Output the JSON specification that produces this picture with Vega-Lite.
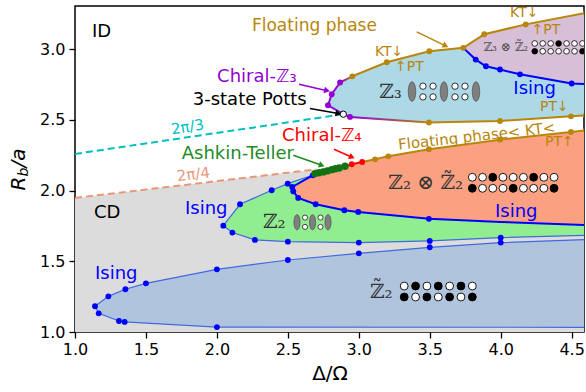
{
  "$schema": "https://vega.github.io/schema/vega-lite/v6.json",
  "width": 509,
  "height": 326,
  "autosize": {"type": "none"},
  "padding": {"left": 75, "top": 6, "right": 2, "bottom": 60},
  "background": "white",
  "config": {
    "font": "DejaVu Sans",
    "view": {"stroke": "black", "strokeWidth": 1.5},
    "axis": {
      "grid": false, "domain": false,
      "tickColor": "black", "tickSize": 6, "tickWidth": 1.3,
      "labelColor": "black", "labelFontSize": 16, "labelFont": "DejaVu Sans", "labelFlush": false,
      "titleFont": "DejaVu Sans", "titleFontSize": 20, "titleFontWeight": "normal", "titleColor": "black"
    }
  },
  "datasets": {
    "gray": [
      {"x": 1.0, "y": 1.0}, {"x": 1.0, "y": 1.948}, {"x": 2.70, "y": 2.150}, {"x": 4.6, "y": 2.15}, {"x": 4.6, "y": 1.0}
    ],
    "blueReg": [
      {"x": 4.6, "y": 1.654}, {"x": 4.0, "y": 1.632}, {"x": 3.5, "y": 1.599}, {"x": 3.0, "y": 1.556},
      {"x": 2.5, "y": 1.509}, {"x": 2.0, "y": 1.443}, {"x": 1.5, "y": 1.344}, {"x": 1.355, "y": 1.302},
      {"x": 1.235, "y": 1.252}, {"x": 1.141, "y": 1.182}, {"x": 1.167, "y": 1.132}, {"x": 1.31, "y": 1.078},
      {"x": 1.35, "y": 1.071}, {"x": 2.0, "y": 1.035}, {"x": 4.6, "y": 1.033}
    ],
    "greenReg": [
      {"x": 2.675, "y": 2.108}, {"x": 2.499, "y": 2.049}, {"x": 2.386, "y": 2.002}, {"x": 2.163, "y": 1.903},
      {"x": 2.045, "y": 1.752}, {"x": 2.109, "y": 1.703}, {"x": 2.268, "y": 1.651}, {"x": 2.5, "y": 1.639},
      {"x": 3.0, "y": 1.632}, {"x": 3.5, "y": 1.644}, {"x": 4.0, "y": 1.667}, {"x": 4.6, "y": 1.683}, {"x": 4.6, "y": 1.9}
    ],
    "orangeReg": [
      {"x": 4.6, "y": 2.427}, {"x": 4.495, "y": 2.414}, {"x": 3.995, "y": 2.36}, {"x": 3.494, "y": 2.292},
      {"x": 3.208, "y": 2.242}, {"x": 3.114, "y": 2.221}, {"x": 3.024, "y": 2.202}, {"x": 2.95, "y": 2.186},
      {"x": 2.903, "y": 2.172}, {"x": 2.862, "y": 2.16}, {"x": 2.809, "y": 2.148}, {"x": 2.75, "y": 2.132},
      {"x": 2.691, "y": 2.12}, {"x": 2.675, "y": 2.108}, {"x": 2.531, "y": 2.026}, {"x": 2.538, "y": 1.995},
      {"x": 2.573, "y": 1.948}, {"x": 2.696, "y": 1.903}, {"x": 2.898, "y": 1.861}, {"x": 2.996, "y": 1.849},
      {"x": 3.494, "y": 1.8}, {"x": 4.0, "y": 1.778}, {"x": 4.6, "y": 1.756}
    ],
    "cyanReg": [
      {"x": 4.6, "y": 2.752}, {"x": 4.5, "y": 2.757}, {"x": 4.136, "y": 2.822}, {"x": 3.995, "y": 2.856},
      {"x": 3.896, "y": 2.879}, {"x": 3.824, "y": 2.926}, {"x": 3.736, "y": 3.009}, {"x": 3.497, "y": 2.985},
      {"x": 3.197, "y": 2.907}, {"x": 2.954, "y": 2.808}, {"x": 2.868, "y": 2.764}, {"x": 2.809, "y": 2.681},
      {"x": 2.783, "y": 2.603}, {"x": 2.891, "y": 2.54}, {"x": 2.938, "y": 2.521}, {"x": 3.494, "y": 2.481},
      {"x": 3.995, "y": 2.492}, {"x": 4.495, "y": 2.525}, {"x": 4.6, "y": 2.532}
    ],
    "purpleReg": [
      {"x": 3.736, "y": 3.009}, {"x": 3.884, "y": 3.105}, {"x": 4.176, "y": 3.175}, {"x": 4.6, "y": 3.257},
      {"x": 4.6, "y": 2.752}, {"x": 4.5, "y": 2.757}, {"x": 4.136, "y": 2.822}, {"x": 3.995, "y": 2.856},
      {"x": 3.896, "y": 2.879}, {"x": 3.824, "y": 2.926}
    ],
    "edges": [
      {"s": "isingZ2", "c": "ising", "x": 2.675, "y": 2.108}, {"s": "isingZ2", "c": "ising", "x": 2.531, "y": 2.026},
      {"s": "isingZ2", "c": "ising", "x": 2.538, "y": 1.995}, {"s": "isingZ2", "c": "ising", "x": 2.573, "y": 1.948},
      {"s": "isingZ2", "c": "ising", "x": 2.696, "y": 1.903}, {"s": "isingZ2", "c": "ising", "x": 2.898, "y": 1.861},
      {"s": "isingZ2", "c": "ising", "x": 2.996, "y": 1.849}, {"s": "isingZ2", "c": "ising", "x": 3.494, "y": 1.8},
      {"s": "isingZ2", "c": "ising", "x": 4.0, "y": 1.778}, {"s": "isingZ2", "c": "ising", "x": 4.6, "y": 1.756},
      {"s": "isingZ3", "c": "ising", "x": 3.736, "y": 3.009}, {"s": "isingZ3", "c": "ising", "x": 3.824, "y": 2.926},
      {"s": "isingZ3", "c": "ising", "x": 3.896, "y": 2.879}, {"s": "isingZ3", "c": "ising", "x": 3.995, "y": 2.856},
      {"s": "isingZ3", "c": "ising", "x": 4.136, "y": 2.822}, {"s": "isingZ3", "c": "ising", "x": 4.5, "y": 2.757},
      {"s": "isingZ3", "c": "ising", "x": 4.6, "y": 2.752},
      {"s": "floatTop", "c": "float", "x": 2.954, "y": 2.808}, {"s": "floatTop", "c": "float", "x": 3.197, "y": 2.907},
      {"s": "floatTop", "c": "float", "x": 3.497, "y": 2.985}, {"s": "floatTop", "c": "float", "x": 3.736, "y": 3.009},
      {"s": "floatTop", "c": "float", "x": 3.884, "y": 3.105}, {"s": "floatTop", "c": "float", "x": 4.176, "y": 3.175},
      {"s": "floatTop", "c": "float", "x": 4.6, "y": 3.257},
      {"s": "floatMid", "c": "float", "x": 3.494, "y": 2.481}, {"s": "floatMid", "c": "float", "x": 3.995, "y": 2.492},
      {"s": "floatMid", "c": "float", "x": 4.495, "y": 2.525}, {"s": "floatMid", "c": "float", "x": 4.6, "y": 2.532},
      {"s": "floatLow", "c": "float", "x": 3.024, "y": 2.202}, {"s": "floatLow", "c": "float", "x": 3.114, "y": 2.221},
      {"s": "floatLow", "c": "float", "x": 3.208, "y": 2.242}, {"s": "floatLow", "c": "float", "x": 3.494, "y": 2.292},
      {"s": "floatLow", "c": "float", "x": 3.995, "y": 2.36}, {"s": "floatLow", "c": "float", "x": 4.495, "y": 2.414},
      {"s": "floatLow", "c": "float", "x": 4.6, "y": 2.427},
      {"s": "chiral4", "c": "z4", "x": 2.903, "y": 2.172}, {"s": "chiral4", "c": "z4", "x": 2.95, "y": 2.186},
      {"s": "chiral4", "c": "z4", "x": 3.024, "y": 2.202},
      {"s": "ashkin", "c": "at", "x": 2.675, "y": 2.108}, {"s": "ashkin", "c": "at", "x": 2.691, "y": 2.12},
      {"s": "ashkin", "c": "at", "x": 2.75, "y": 2.132}, {"s": "ashkin", "c": "at", "x": 2.809, "y": 2.148},
      {"s": "ashkin", "c": "at", "x": 2.862, "y": 2.16}, {"s": "ashkin", "c": "at", "x": 2.903, "y": 2.172},
      {"s": "chiral3", "c": "z3c", "x": 2.868, "y": 2.764}, {"s": "chiral3", "c": "z3c", "x": 2.809, "y": 2.681},
      {"s": "chiral3", "c": "z3c", "x": 2.783, "y": 2.603}, {"s": "chiral3", "c": "z3c", "x": 2.891, "y": 2.54},
      {"s": "chiral3", "c": "z3c", "x": 2.938, "y": 2.521}
    ],
    "dashes": [
      {"s": "pi3", "c": "pi3", "x": 1.0, "y": 2.259}, {"s": "pi3", "c": "pi3", "x": 2.891, "y": 2.54},
      {"s": "pi4", "c": "pi4", "x": 1.0, "y": 1.948}, {"s": "pi4", "c": "pi4", "x": 2.70, "y": 2.15}
    ],
    "arrows": [
      {"id": "z3c", "c": "z3c", "x0": 2.579, "y0": 2.752, "x": 2.776, "y": 2.706},
      {"id": "potts", "c": "k", "x0": 2.656, "y0": 2.580, "x": 2.856, "y": 2.545},
      {"id": "z4", "c": "z4", "x0": 2.825, "y0": 2.292, "x": 2.952, "y": 2.236},
      {"id": "at", "c": "at", "x0": 2.538, "y0": 2.250, "x": 2.739, "y": 2.179},
      {"id": "float", "c": "float", "x0": 3.408, "y0": 3.122, "x": 3.612, "y": 3.023}
    ],
    "dots": [
      {"c": "ising", "x": 1.141, "y": 1.182}, {"c": "ising", "x": 1.167, "y": 1.132}, {"c": "ising", "x": 1.235, "y": 1.252},
      {"c": "ising", "x": 1.31, "y": 1.078}, {"c": "ising", "x": 1.35, "y": 1.071}, {"c": "ising", "x": 1.355, "y": 1.302},
      {"c": "ising", "x": 1.5, "y": 1.344}, {"c": "ising", "x": 2.0, "y": 1.443}, {"c": "ising", "x": 2.0, "y": 1.035},
      {"c": "ising", "x": 2.5, "y": 1.509}, {"c": "ising", "x": 3.0, "y": 1.556}, {"c": "ising", "x": 3.5, "y": 1.599},
      {"c": "ising", "x": 4.0, "y": 1.632},
      {"c": "ising", "x": 2.045, "y": 1.752}, {"c": "ising", "x": 2.109, "y": 1.703}, {"c": "ising", "x": 2.268, "y": 1.651},
      {"c": "ising", "x": 2.5, "y": 1.639}, {"c": "ising", "x": 3.0, "y": 1.632}, {"c": "ising", "x": 3.5, "y": 1.644},
      {"c": "ising", "x": 4.0, "y": 1.667}, {"c": "ising", "x": 2.163, "y": 1.903}, {"c": "ising", "x": 2.386, "y": 2.002},
      {"c": "ising", "x": 2.499, "y": 2.049},
      {"c": "ising", "x": 2.675, "y": 2.108}, {"c": "ising", "x": 2.531, "y": 2.026}, {"c": "ising", "x": 2.538, "y": 1.995},
      {"c": "ising", "x": 2.573, "y": 1.948}, {"c": "ising", "x": 2.696, "y": 1.903}, {"c": "ising", "x": 2.898, "y": 1.861},
      {"c": "ising", "x": 2.996, "y": 1.849}, {"c": "ising", "x": 3.494, "y": 1.8},
      {"c": "ising", "x": 3.824, "y": 2.926}, {"c": "ising", "x": 3.896, "y": 2.879}, {"c": "ising", "x": 3.995, "y": 2.856},
      {"c": "ising", "x": 4.136, "y": 2.822}, {"c": "ising", "x": 4.5, "y": 2.757},
      {"c": "float", "x": 2.954, "y": 2.808}, {"c": "float", "x": 3.197, "y": 2.907}, {"c": "float", "x": 3.497, "y": 2.985},
      {"c": "float", "x": 3.736, "y": 3.009}, {"c": "float", "x": 3.884, "y": 3.105}, {"c": "float", "x": 4.176, "y": 3.175},
      {"c": "float", "x": 4.6, "y": 3.257}, {"c": "float", "x": 3.494, "y": 2.481}, {"c": "float", "x": 3.995, "y": 2.492},
      {"c": "float", "x": 4.495, "y": 2.525}, {"c": "float", "x": 4.6, "y": 2.532}, {"c": "float", "x": 3.114, "y": 2.221},
      {"c": "float", "x": 3.208, "y": 2.242}, {"c": "float", "x": 3.494, "y": 2.292}, {"c": "float", "x": 3.995, "y": 2.36},
      {"c": "float", "x": 4.495, "y": 2.414}, {"c": "float", "x": 4.6, "y": 2.427},
      {"c": "z4", "x": 2.95, "y": 2.186}, {"c": "z4", "x": 3.024, "y": 2.202},
      {"c": "at", "x": 2.691, "y": 2.12}, {"c": "at", "x": 2.72, "y": 2.126}, {"c": "at", "x": 2.75, "y": 2.132},
      {"c": "at", "x": 2.778, "y": 2.139}, {"c": "at", "x": 2.809, "y": 2.148}, {"c": "at", "x": 2.835, "y": 2.154},
      {"c": "at", "x": 2.862, "y": 2.16}, {"c": "at", "x": 2.903, "y": 2.172},
      {"c": "z3c", "x": 2.868, "y": 2.764}, {"c": "z3c", "x": 2.809, "y": 2.681}, {"c": "z3c", "x": 2.783, "y": 2.603},
      {"c": "z3c", "x": 2.938, "y": 2.521}
    ],
    "beads": [
      {"g": "zt2", "c": "w", "x": 3.32, "y": 1.325}, {"g": "zt2", "c": "b", "x": 3.40, "y": 1.325}, {"g": "zt2", "c": "w", "x": 3.48, "y": 1.325},
      {"g": "zt2", "c": "b", "x": 3.56, "y": 1.325}, {"g": "zt2", "c": "w", "x": 3.64, "y": 1.325}, {"g": "zt2", "c": "b", "x": 3.72, "y": 1.325},
      {"g": "zt2", "c": "w", "x": 3.80, "y": 1.325},
      {"g": "zt2", "c": "b", "x": 3.32, "y": 1.2475}, {"g": "zt2", "c": "w", "x": 3.40, "y": 1.2475}, {"g": "zt2", "c": "b", "x": 3.48, "y": 1.2475},
      {"g": "zt2", "c": "w", "x": 3.56, "y": 1.2475}, {"g": "zt2", "c": "b", "x": 3.64, "y": 1.2475}, {"g": "zt2", "c": "w", "x": 3.72, "y": 1.2475},
      {"g": "zt2", "c": "b", "x": 3.80, "y": 1.2475},
      {"g": "z2z2", "c": "w", "x": 3.800, "y": 2.094}, {"g": "z2z2", "c": "w", "x": 3.872, "y": 2.094}, {"g": "z2z2", "c": "b", "x": 3.944, "y": 2.094},
      {"g": "z2z2", "c": "w", "x": 4.016, "y": 2.094}, {"g": "z2z2", "c": "w", "x": 4.088, "y": 2.094}, {"g": "z2z2", "c": "w", "x": 4.160, "y": 2.094},
      {"g": "z2z2", "c": "b", "x": 4.232, "y": 2.094}, {"g": "z2z2", "c": "w", "x": 4.304, "y": 2.094}, {"g": "z2z2", "c": "w", "x": 4.376, "y": 2.094},
      {"g": "z2z2", "c": "b", "x": 3.800, "y": 2.016}, {"g": "z2z2", "c": "w", "x": 3.872, "y": 2.016}, {"g": "z2z2", "c": "w", "x": 3.944, "y": 2.016},
      {"g": "z2z2", "c": "w", "x": 4.016, "y": 2.016}, {"g": "z2z2", "c": "b", "x": 4.088, "y": 2.016}, {"g": "z2z2", "c": "w", "x": 4.160, "y": 2.016},
      {"g": "z2z2", "c": "w", "x": 4.232, "y": 2.016}, {"g": "z2z2", "c": "w", "x": 4.304, "y": 2.016}, {"g": "z2z2", "c": "b", "x": 4.376, "y": 2.016},
      {"g": "z3z2", "c": "w", "x": 4.240, "y": 3.040}, {"g": "z3z2", "c": "w", "x": 4.296, "y": 3.040}, {"g": "z3z2", "c": "w", "x": 4.352, "y": 3.040},
      {"g": "z3z2", "c": "b", "x": 4.408, "y": 3.040}, {"g": "z3z2", "c": "w", "x": 4.464, "y": 3.040}, {"g": "z3z2", "c": "w", "x": 4.520, "y": 3.040},
      {"g": "z3z2", "c": "w", "x": 4.576, "y": 3.040}, {"g": "z3z2", "c": "w", "x": 4.632, "y": 3.040},
      {"g": "z3z2", "c": "b", "x": 4.240, "y": 2.985}, {"g": "z3z2", "c": "w", "x": 4.296, "y": 2.985}, {"g": "z3z2", "c": "w", "x": 4.352, "y": 2.985},
      {"g": "z3z2", "c": "w", "x": 4.408, "y": 2.985}, {"g": "z3z2", "c": "w", "x": 4.464, "y": 2.985}, {"g": "z3z2", "c": "w", "x": 4.520, "y": 2.985},
      {"g": "z3z2", "c": "b", "x": 4.576, "y": 2.985}, {"g": "z3z2", "c": "w", "x": 4.632, "y": 2.985},
      {"g": "z3", "c": "w", "x": 3.452, "y": 2.738}, {"g": "z3", "c": "w", "x": 3.523, "y": 2.738}, {"g": "z3", "c": "w", "x": 3.678, "y": 2.738},
      {"g": "z3", "c": "w", "x": 3.748, "y": 2.738}, {"g": "z3", "c": "w", "x": 3.452, "y": 2.662}, {"g": "z3", "c": "w", "x": 3.523, "y": 2.662},
      {"g": "z3", "c": "w", "x": 3.678, "y": 2.662}, {"g": "z3", "c": "w", "x": 3.748, "y": 2.662},
      {"g": "z2", "c": "w", "x": 2.621, "y": 1.809}, {"g": "z2", "c": "w", "x": 2.730, "y": 1.809},
      {"g": "z2", "c": "w", "x": 2.621, "y": 1.743}, {"g": "z2", "c": "w", "x": 2.730, "y": 1.743}
    ],
    "ovals": [
      {"g": "z3", "x": 3.375, "y": 2.700}, {"g": "z3", "x": 3.600, "y": 2.700}, {"g": "z3", "x": 3.826, "y": 2.700},
      {"g": "z2", "x": 2.5645, "y": 1.776}, {"g": "z2", "x": 2.674, "y": 1.776}, {"g": "z2", "x": 2.783, "y": 1.776}
    ],
    "labels": [
      {"g": "L18", "c": "k", "t": "ID", "x": 1.12, "y": 3.12},
      {"g": "L18", "c": "k", "t": "CD", "x": 1.134, "y": 1.838},
      {"g": "L18", "c": "z4", "t": "Chiral-ℤ₄", "x": 2.459, "y": 2.384},
      {"g": "L18", "c": "at", "t": "Ashkin-Teller", "x": 1.752, "y": 2.262},
      {"g": "L18", "c": "ising", "t": "Ising", "x": 4.089, "y": 2.721},
      {"g": "L18", "c": "ising", "t": "Ising", "x": 1.775, "y": 1.873},
      {"g": "L18", "c": "ising", "t": "Ising", "x": 3.96, "y": 1.849},
      {"g": "L18", "c": "ising", "t": "Ising", "x": 1.141, "y": 1.413},
      {"g": "L17", "c": "float", "t": "Floating phase", "x": 2.247, "y": 3.162},
      {"g": "R18", "c": "z3c", "t": "Chiral-ℤ₃", "x": 2.562, "y": 2.803},
      {"g": "R18", "c": "k", "t": "3-state Potts", "x": 2.633, "y": 2.639},
      {"g": "L14", "c": "float", "t": "KT↓", "x": 3.114, "y": 2.98},
      {"g": "L14", "c": "float", "t": "↑PT", "x": 3.255, "y": 2.874},
      {"g": "L14", "c": "float", "t": "KT↓", "x": 4.066, "y": 3.252},
      {"g": "L14", "c": "float", "t": "↑PT", "x": 4.218, "y": 3.134},
      {"g": "L14", "c": "float", "t": "PT↓", "x": 4.277, "y": 2.591},
      {"g": "L14", "c": "float", "t": "PT↑", "x": 4.312, "y": 2.344},
      {"g": "math", "c": "math", "t": "ℤ₃", "x": 3.144, "y": 2.697},
      {"g": "math", "c": "math", "t": "ℤ₂ ⊗ ℤ̃₂", "x": 3.208, "y": 2.052},
      {"g": "math", "c": "math", "t": "ℤ₂", "x": 2.325, "y": 1.776},
      {"g": "math", "c": "math", "t": "ℤ̃₂", "x": 3.079, "y": 1.286},
      {"g": "maths", "c": "maths", "t": "ℤ₃ ⊗ ℤ̃₂", "x": 3.877, "y": 3.012},
      {"g": "rot3", "c": "pi3", "t": "2π/3", "x": 1.793, "y": 2.45},
      {"g": "rot4", "c": "pi4", "t": "2π/4", "x": 1.834, "y": 2.115},
      {"g": "rotf", "c": "float", "t": "Floating phase< KT<", "x": 3.831, "y": 2.385}
    ],
    "ytitle": [
      {"part": "R", "x": 1.0, "y": 2.0},
      {"part": "b", "x": 1.0, "y": 2.0},
      {"part": "/a", "x": 1.0, "y": 2.0}
    ]
  },
  "encoding": {
    "x": {
      "field": "x", "type": "quantitative",
      "scale": {"domain": [1.0, 4.587], "nice": false, "zero": false},
      "axis": {"values": [1, 1.5, 2, 2.5, 3, 3.5, 4, 4.5], "format": ".1f", "title": "Δ/Ω", "labelPadding": 3, "titlePadding": 6}
    },
    "y": {
      "field": "y", "type": "quantitative",
      "scale": {"domain": [1.0, 3.305], "nice": false, "zero": false},
      "axis": {"values": [1, 1.5, 2, 2.5, 3], "format": ".1f", "title": null, "labelPadding": 4}
    }
  },
  "layer": [
    {"data": {"name": "gray"}, "mark": {"type": "line", "fill": "#dcdcdc", "strokeOpacity": 0, "clip": true}, "encoding": {"order": {"value": null}}},
    {"data": {"name": "blueReg"}, "mark": {"type": "line", "fill": "#b0c4de", "strokeOpacity": 0, "clip": true}, "encoding": {"order": {"value": null}}},
    {"data": {"name": "greenReg"}, "mark": {"type": "line", "fill": "#90ee90", "strokeOpacity": 0, "clip": true}, "encoding": {"order": {"value": null}}},
    {"data": {"name": "orangeReg"}, "mark": {"type": "line", "fill": "#fca082", "strokeOpacity": 0, "clip": true}, "encoding": {"order": {"value": null}}},
    {"data": {"name": "cyanReg"}, "mark": {"type": "line", "fill": "#add8e6", "strokeOpacity": 0, "clip": true}, "encoding": {"order": {"value": null}}},
    {"data": {"name": "purpleReg"}, "mark": {"type": "line", "fill": "#d8bfd8", "strokeOpacity": 0, "clip": true}, "encoding": {"order": {"value": null}}},

    {"data": {"name": "dashes"}, "mark": {"type": "line", "strokeWidth": 2, "strokeDash": [7, 4], "clip": true},
     "encoding": {"order": {"value": null}, "detail": {"field": "s"},
       "color": {"field": "c", "type": "nominal", "legend": null,
         "scale": {"domain": ["ising", "isingl", "float", "z4", "at", "z3c", "k", "pi3", "pi4", "math", "maths", "w", "b"],
                   "range": ["#0000ff", "#4169e1", "#b8860b", "#ff0000", "#1e8c1e", "#9400d3", "#000000", "#00bfbf", "#e9967a", "#262626", "#4d4d4d", "#ffffff", "#000000"]}}}},

    {"data": {"name": "blueReg"}, "mark": {"type": "line", "color": "#4169e1", "strokeWidth": 1.2, "clip": true}, "encoding": {"order": {"value": null}}},
    {"data": {"name": "greenReg"}, "mark": {"type": "line", "color": "#4169e1", "strokeWidth": 1.2, "clip": true}, "encoding": {"order": {"value": null}}},

    {"data": {"name": "edges"}, "mark": {"type": "line", "strokeWidth": 2, "clip": true},
     "encoding": {"order": {"value": null}, "detail": {"field": "s"},
       "color": {"field": "c", "type": "nominal", "legend": null,
         "scale": {"domain": ["ising", "isingl", "float", "z4", "at", "z3c", "k", "pi3", "pi4", "math", "maths", "w", "b"],
                   "range": ["#0000ff", "#4169e1", "#b8860b", "#ff0000", "#1e8c1e", "#9400d3", "#000000", "#00bfbf", "#e9967a", "#262626", "#4d4d4d", "#ffffff", "#000000"]}}}},

    {"data": {"values": [{"x": 2.868, "y": 2.764}, {"x": 2.954, "y": 2.808}]},
     "mark": {"type": "line", "strokeWidth": 2, "clip": true,
       "stroke": {"gradient": "linear", "stops": [{"offset": 0, "color": "#9400d3"}, {"offset": 1, "color": "#b8860b"}]}},
     "encoding": {"order": {"value": null}}},
    {"data": {"values": [{"x": 2.938, "y": 2.521}, {"x": 3.494, "y": 2.481}]},
     "mark": {"type": "line", "strokeWidth": 2, "clip": true,
       "stroke": {"gradient": "linear", "stops": [{"offset": 0, "color": "#9400d3"}, {"offset": 1, "color": "#b8860b"}]}},
     "encoding": {"order": {"value": null}}},

    {"data": {"name": "arrows"}, "mark": {"type": "rule", "strokeWidth": 1.5},
     "encoding": {"x2": {"field": "x0"}, "y2": {"field": "y0"},
       "color": {"field": "c", "type": "nominal", "legend": null,
         "scale": {"domain": ["ising", "isingl", "float", "z4", "at", "z3c", "k", "pi3", "pi4", "math", "maths", "w", "b"],
                   "range": ["#0000ff", "#4169e1", "#b8860b", "#ff0000", "#1e8c1e", "#9400d3", "#000000", "#00bfbf", "#e9967a", "#262626", "#4d4d4d", "#ffffff", "#000000"]}}}},
    {"data": {"name": "arrows"}, "transform": [{"filter": "datum.id === 'z3c'"}],
     "mark": {"type": "point", "shape": "triangle-up", "filled": true, "opacity": 1, "size": 45, "angle": 103, "color": "#9400d3"}},
    {"data": {"name": "arrows"}, "transform": [{"filter": "datum.id === 'potts'"}],
     "mark": {"type": "point", "shape": "triangle-up", "filled": true, "opacity": 1, "size": 45, "angle": 100, "color": "#000000"}},
    {"data": {"name": "arrows"}, "transform": [{"filter": "datum.id === 'z4'"}],
     "mark": {"type": "point", "shape": "triangle-up", "filled": true, "opacity": 1, "size": 45, "angle": 114, "color": "#ff0000"}},
    {"data": {"name": "arrows"}, "transform": [{"filter": "datum.id === 'at'"}],
     "mark": {"type": "point", "shape": "triangle-up", "filled": true, "opacity": 1, "size": 45, "angle": 109, "color": "#1e8c1e"}},
    {"data": {"name": "arrows"}, "transform": [{"filter": "datum.id === 'float'"}],
     "mark": {"type": "point", "shape": "triangle-up", "filled": true, "opacity": 1, "size": 45, "angle": 116, "color": "#b8860b"}},

    {"data": {"name": "dots"}, "transform": [{"filter": "datum.c !== 'at'"}],
     "mark": {"type": "point", "filled": true, "opacity": 1, "size": 34, "clip": true},
     "encoding": {"color": {"field": "c", "type": "nominal", "legend": null,
         "scale": {"domain": ["ising", "isingl", "float", "z4", "at", "z3c", "k", "pi3", "pi4", "math", "maths", "w", "b"],
                   "range": ["#0000ff", "#4169e1", "#b8860b", "#ff0000", "#1e8c1e", "#9400d3", "#000000", "#00bfbf", "#e9967a", "#262626", "#4d4d4d", "#ffffff", "#000000"]}}}},
    {"data": {"name": "dots"}, "transform": [{"filter": "datum.c === 'at'"}],
     "mark": {"type": "point", "filled": true, "opacity": 1, "size": 55, "color": "#137313", "clip": true}},
    {"data": {"values": [{"x": 2.891, "y": 2.54}]},
     "mark": {"type": "point", "filled": true, "fill": "white", "stroke": "black", "strokeWidth": 1, "opacity": 1, "size": 40}},

    {"data": {"name": "ovals"}, "transform": [{"filter": "datum.g === 'z3'"}],
     "mark": {"type": "point", "shape": "M0,-1A0.38,1 0 1,1 0,1A0.38,1 0 1,1 0,-1Z", "filled": true, "fill": "#7f7f7f", "stroke": "#555555", "strokeWidth": 0.8, "opacity": 1, "size": 380}},
    {"data": {"name": "ovals"}, "transform": [{"filter": "datum.g === 'z2'"}],
     "mark": {"type": "point", "shape": "M0,-1A0.4,1 0 1,1 0,1A0.4,1 0 1,1 0,-1Z", "filled": true, "fill": "#7f7f7f", "stroke": "#555555", "strokeWidth": 0.8, "opacity": 1, "size": 230}},

    {"data": {"name": "beads"}, "transform": [{"filter": "datum.g === 'zt2' || datum.g === 'z2z2'"}],
     "mark": {"type": "point", "shape": "circle", "filled": true, "stroke": "black", "strokeWidth": 0.9, "opacity": 1, "size": 62, "clip": true},
     "encoding": {"fill": {"field": "c", "type": "nominal", "legend": null, "scale": {"domain": ["w", "b"], "range": ["#ffffff", "#000000"]}}}},
    {"data": {"name": "beads"}, "transform": [{"filter": "datum.g === 'z3z2'"}],
     "mark": {"type": "point", "shape": "circle", "filled": true, "stroke": "black", "strokeWidth": 0.8, "opacity": 1, "size": 32, "clip": true},
     "encoding": {"fill": {"field": "c", "type": "nominal", "legend": null, "scale": {"domain": ["w", "b"], "range": ["#ffffff", "#000000"]}}}},
    {"data": {"name": "beads"}, "transform": [{"filter": "datum.g === 'z3'"}],
     "mark": {"type": "point", "shape": "circle", "filled": true, "stroke": "black", "strokeWidth": 0.8, "opacity": 1, "size": 40, "clip": true},
     "encoding": {"fill": {"field": "c", "type": "nominal", "legend": null, "scale": {"domain": ["w", "b"], "range": ["#ffffff", "#000000"]}}}},
    {"data": {"name": "beads"}, "transform": [{"filter": "datum.g === 'z2'"}],
     "mark": {"type": "point", "shape": "circle", "filled": true, "stroke": "black", "strokeWidth": 0.7, "opacity": 1, "size": 26, "clip": true},
     "encoding": {"fill": {"field": "c", "type": "nominal", "legend": null, "scale": {"domain": ["w", "b"], "range": ["#ffffff", "#000000"]}}}},

    {"data": {"name": "labels"}, "transform": [{"filter": "datum.g === 'L18'"}],
     "mark": {"type": "text", "align": "left", "baseline": "middle", "fontSize": 18, "font": "DejaVu Sans"},
     "encoding": {"text": {"field": "t"},
       "color": {"field": "c", "type": "nominal", "legend": null,
         "scale": {"domain": ["ising", "isingl", "float", "z4", "at", "z3c", "k", "pi3", "pi4", "math", "maths", "w", "b"],
                   "range": ["#0000ff", "#4169e1", "#b8860b", "#ff0000", "#1e8c1e", "#9400d3", "#000000", "#00bfbf", "#e9967a", "#262626", "#4d4d4d", "#ffffff", "#000000"]}}}},
    {"data": {"name": "labels"}, "transform": [{"filter": "datum.g === 'R18'"}],
     "mark": {"type": "text", "align": "right", "baseline": "middle", "fontSize": 18, "font": "DejaVu Sans"},
     "encoding": {"text": {"field": "t"},
       "color": {"field": "c", "type": "nominal", "legend": null,
         "scale": {"domain": ["ising", "isingl", "float", "z4", "at", "z3c", "k", "pi3", "pi4", "math", "maths", "w", "b"],
                   "range": ["#0000ff", "#4169e1", "#b8860b", "#ff0000", "#1e8c1e", "#9400d3", "#000000", "#00bfbf", "#e9967a", "#262626", "#4d4d4d", "#ffffff", "#000000"]}}}},
    {"data": {"name": "labels"}, "transform": [{"filter": "datum.g === 'L17'"}],
     "mark": {"type": "text", "align": "left", "baseline": "middle", "fontSize": 17, "font": "DejaVu Sans", "color": "#b8860b"},
     "encoding": {"text": {"field": "t"}}},
    {"data": {"name": "labels"}, "transform": [{"filter": "datum.g === 'L14'"}],
     "mark": {"type": "text", "align": "left", "baseline": "middle", "fontSize": 14, "font": "DejaVu Sans", "color": "#b8860b"},
     "encoding": {"text": {"field": "t"}}},
    {"data": {"name": "labels"}, "transform": [{"filter": "datum.g === 'math'"}],
     "mark": {"type": "text", "align": "left", "baseline": "middle", "fontSize": 20, "font": "DejaVu Serif", "color": "#333333"},
     "encoding": {"text": {"field": "t"}}},
    {"data": {"name": "labels"}, "transform": [{"filter": "datum.g === 'maths'"}],
     "mark": {"type": "text", "align": "left", "baseline": "middle", "fontSize": 12, "font": "DejaVu Serif", "color": "#4d4d4d"},
     "encoding": {"text": {"field": "t"}}},
    {"data": {"name": "labels"}, "transform": [{"filter": "datum.g === 'rot3'"}],
     "mark": {"type": "text", "align": "center", "baseline": "middle", "fontSize": 15, "font": "DejaVu Sans", "color": "#00bfbf", "angle": 351},
     "encoding": {"text": {"field": "t"}}},
    {"data": {"name": "labels"}, "transform": [{"filter": "datum.g === 'rot4'"}],
     "mark": {"type": "text", "align": "center", "baseline": "middle", "fontSize": 15, "font": "DejaVu Sans", "color": "#e9967a", "angle": 353},
     "encoding": {"text": {"field": "t"}}},
    {"data": {"name": "labels"}, "transform": [{"filter": "datum.g === 'rotf'"}],
     "mark": {"type": "text", "align": "center", "baseline": "middle", "fontSize": 15, "font": "DejaVu Sans", "color": "#b8860b", "angle": 353.7},
     "encoding": {"text": {"field": "t"}}},

    {"data": {"name": "ytitle"}, "transform": [{"filter": "datum.part === 'R'"}],
     "mark": {"type": "text", "align": "left", "baseline": "middle", "angle": 270, "fontSize": 20, "fontStyle": "italic", "font": "DejaVu Sans", "color": "black", "dy": -56},
     "encoding": {"text": {"field": "part"}}},
    {"data": {"name": "ytitle"}, "transform": [{"filter": "datum.part === 'b'"}],
     "mark": {"type": "text", "align": "left", "baseline": "middle", "angle": 270, "fontSize": 14, "fontStyle": "italic", "font": "DejaVu Sans", "color": "black", "dx": 14, "dy": -51},
     "encoding": {"text": {"field": "part"}}},
    {"data": {"name": "ytitle"}, "transform": [{"filter": "datum.part === '/a'"}],
     "mark": {"type": "text", "align": "left", "baseline": "middle", "angle": 270, "fontSize": 20, "fontStyle": "italic", "font": "DejaVu Sans", "color": "black", "dx": 23, "dy": -56},
     "encoding": {"text": {"field": "part"}}}
  ]
}
